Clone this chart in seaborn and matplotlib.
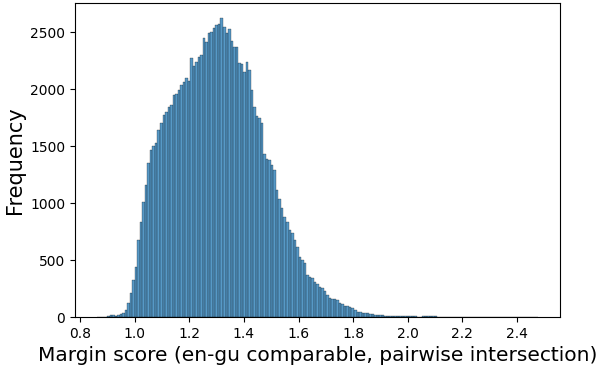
import numpy as np
import pandas as pd
import seaborn as sns
import matplotlib.pyplot as plt

# histogram range and bin count
score_min = 0.862
score_max = 2.477
n_bins = 175

# bar heights (frequency per bin), left to right
counts = [
    1, 2, 3, 4, 8, 18, 20, 10, 15, 25, 35, 60,
    120, 210, 325, 440, 675, 835, 1010, 1160, 1350, 1465,
    1500, 1525, 1640, 1700, 1770, 1800, 1845, 1860, 1950, 1960,
    1990, 2035, 2060, 2095, 2070, 2270, 2200, 2240, 2285, 2300,
    2445, 2415, 2490, 2500, 2535, 2560, 2575, 2625, 2545, 2490,
    2530, 2420, 2370, 2370, 2230, 2225, 2150, 2240, 2170, 1990,
    1845, 1760, 1745, 1700, 1435, 1390, 1375, 1330, 1290, 1115,
    1040, 955, 880, 835, 765, 735, 680, 615, 525, 500,
    475, 370, 355, 340, 310, 290, 265, 255, 230, 195,
    165, 160, 155, 150, 120, 114, 96, 100, 90, 79,
    60, 46, 42, 38, 35, 32, 30, 25, 22, 20,
    18, 14, 12, 10, 9, 10, 7,
    8, 9, 7, 10, 8, 7, 9, 8, 3, 2, 8, 9, 8, 7, 8, 6, 3,
    2, 1, 2, 3, 1, 2, 1, 2, 1, 3, 2, 1, 2, 1, 1, 2, 1, 2, 1, 1,
    2, 1, 1, 2, 1, 1, 2, 1, 1, 1, 2, 1, 1, 1, 1, 2, 1, 1, 2,
]


def main():
    edges = np.linspace(score_min, score_max, n_bins + 1)
    centers = (edges[:-1] + edges[1:]) / 2
    df = pd.DataFrame({'score': centers, 'count': counts[:n_bins]})

    fig = plt.figure(figsize=(5.98, 3.70), dpi=100)
    ax = fig.add_axes([0.1254, 0.1432, 0.811, 0.8487])
    sns.histplot(data=df, x='score', weights='count', bins=n_bins,
                 binrange=(score_min, score_max), ax=ax)

    ax.set_xticks([0.8, 1.0, 1.2, 1.4, 1.6, 1.8, 2.0, 2.2, 2.4])
    ax.set_yticks([0, 500, 1000, 1500, 2000, 2500])
    ax.set_xlabel('Margin score (en-gu comparable, pairwise intersection)',
                  fontsize=14.5)
    ax.set_ylabel('Frequency', fontsize=15)
    plt.savefig('out.png', dpi=100)


if __name__ == "__main__":
    main()
